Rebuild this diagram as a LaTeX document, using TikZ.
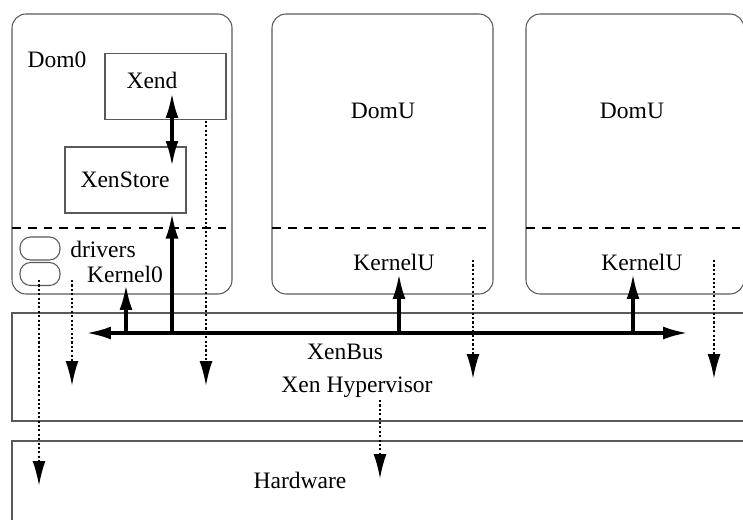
\documentclass[tikz,border=0pt]{standalone}
\usepackage{fontspec}
\setmainfont{Liberation Serif}
\usetikzlibrary{arrows.meta,calc}

\tikzset{
  caja/.style={draw=black!65,line width=0.6pt},
  dombox/.style={caja,rounded corners=8pt},
  drvbox/.style={caja,rounded corners=6pt},
  rotulo/.style={inner sep=1pt,font=\fontsize{13.4}{16}\selectfont},
  bus/.style={line width=2pt},
  llamada/.style={line width=1.8pt},
  aviso/.style={line width=1.3pt,dash pattern=on 1.2pt off 1.3pt},
  corte/.style={line width=1pt,dash pattern=on 5pt off 4pt}
}

\begin{document}
\begin{tikzpicture}[x=0.02cm,y=-0.02cm,>={Latex[length=5mm,width=2.6mm]}]
  \useasboundingbox (0,0) rectangle (743,520);
  % dominios
  \draw[dombox] (12,14) rectangle (232,294);
  \draw[dombox] (272,14) rectangle (493,294);
  \draw[dombox] (526,14) rectangle (744,294);
  \draw[corte] (12,228) -- (232,228) (272,228) -- (493,228) (526,228) -- (744,228);
  % hipervisor y hardware
  \draw[caja] (760,313) -- (12,313) -- (12,421) -- (760,421);
  \draw[caja] (760,441) -- (12,441) -- (12,530);
  % Dom0
  \node[rotulo] (dom0) at (57,60) {Dom0};
  \node[caja,minimum width=2.42cm,minimum height=1.32cm] (xendbox) at (165.5,86.5) {};
  \node[rotulo] (xend) at (152,80) {Xend};
  \node[caja,minimum width=2.42cm,minimum height=1.32cm] (xsbox) at (125.5,180) {};
  \node[rotulo] (xenstore) at (125,180) {XenStore};
  \node[drvbox,minimum width=0.8cm,minimum height=0.46cm] (drv1) at (40,248.5) {};
  \node[drvbox,minimum width=0.8cm,minimum height=0.46cm] (drv2) at (40,274) {};
  \node[rotulo] (drivers) at (103,249) {drivers};
  \node[rotulo] (kernel0) at (125,274) {Kernel0};
  % DomU
  \node[rotulo] (domu1) at (383,111) {DomU};
  \node[rotulo] (domu2) at (632,111) {DomU};
  \node[rotulo] (kernelu1) at (394,262) {KernelU};
  \node[rotulo] (kernelu2) at (642,262) {KernelU};
  % textos de abajo
  \node[rotulo] (xenbus) at (345,352) {XenBus};
  \node[rotulo] (hyper) at (357,387) {Xen Hypervisor};
  \node[rotulo] (hw) at (300,480) {Hardware};
  % XenBus
  \coordinate (busL) at (86,333);
  \coordinate (busR) at (688,333);
  \draw[bus,<->] (busL) -- (busR);
  \coordinate (xsin) at ($(xsbox.south)+(46.5,0)$);
  \draw[llamada,->] (xsin |- busL) -- (xsin);
  \coordinate (k0) at (126,285);
  \draw[llamada,->] (k0 |- busL) -- (k0);
  \coordinate (ku1) at (399,274);
  \coordinate (ku2) at (633,274);
  \draw[llamada,->] (ku1 |- busL) -- (ku1);
  \draw[llamada,->] (ku2 |- busL) -- (ku2);
  % Xend - XenStore
  \coordinate (xa) at (172,93);
  \coordinate (xb) at (172,166);
  \draw[llamada,<->] (xa) -- (xb);
  % avisos punteados
  \coordinate (d1a) at (206,121);  \coordinate (d1b) at (206,386);
  \coordinate (d2a) at (72,280);   \coordinate (d2b) at (72,386);
  \coordinate (d3a) at (39,280);   \coordinate (d3b) at (39,486);
  \coordinate (d4a) at (473,260);  \coordinate (d4b) at (473,379);
  \coordinate (d5a) at (714,260);  \coordinate (d5b) at (714,379);
  \coordinate (d6a) at (380,400);  \coordinate (d6b) at (380,479);
  \foreach \i in {1,...,6}
    \draw[aviso,->] (d\i a) -- (d\i b);
\end{tikzpicture}
\end{document}
